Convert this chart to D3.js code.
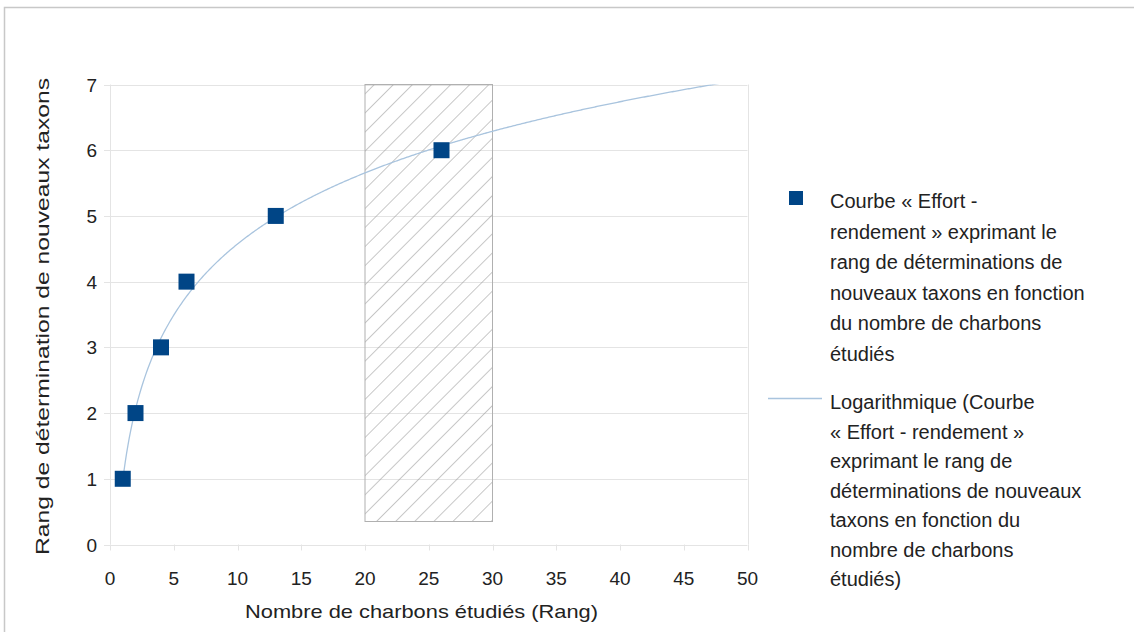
<!DOCTYPE html>
<html><head><meta charset="utf-8">
<script src="https://cdn.jsdelivr.net/npm/d3@7"></script>
<style>body{margin:0;background:#fff}svg{display:block;font-family:"Liberation Sans",Arial,sans-serif}</style>
</head><body><svg id="c" width="1134" height="632"></svg>
<script>
const xValues = [1, 2, 4, 6, 13, 26];
const yValues = [1, 2, 3, 4, 5, 6];
const xTicks = [0,5,10,15,20,25,30,35,40,45,50];
const yTicks = [0,1,2,3,4,5,6,7];
const zoneX = [20, 30];
const zoneY = [0.35, 7];
const xTitle = "Nombre de charbons étudiés (Rang)";
const yTitle = "Rang de détermination de nouveaux taxons";
const legend1 = ["Courbe « Effort -","rendement » exprimant le","rang de déterminations de","nouveaux taxons en fonction","du nombre de charbons","étudiés"];
const legend2 = ["Logarithmique (Courbe","« Effort - rendement »","exprimant le rang de","déterminations de nouveaux","taxons en fonction du","nombre de charbons","étudiés)"];

const svg = d3.select("#c");
const x = d3.scaleLinear().domain([0,50]).range([110,747.5]);
const y = d3.scaleLinear().domain([0,7]).range([544.5,84.5]);

// outer frame
svg.append("rect").attr("x",4.5).attr("y",7.5).attr("width",1140).attr("height",640)
  .attr("fill","none").attr("stroke","#c8c8c8").attr("stroke-width",1.5);

const defs = svg.append("defs");
const pat = defs.append("pattern").attr("id","hatch").attr("patternUnits","userSpaceOnUse")
  .attr("width",13.5).attr("height",13.5).attr("patternTransform","rotate(45)");
pat.append("line").attr("x1",0).attr("y1",0).attr("x2",0).attr("y2",13.5)
  .attr("stroke","#9a9a9a").attr("stroke-width",1.1);
defs.append("clipPath").attr("id","plot").append("rect")
  .attr("x",x(0)).attr("y",y(7)).attr("width",x(50)-x(0)).attr("height",y(0)-y(7));

// grid
svg.append("g").selectAll("line").data(yTicks).join("line")
  .attr("x1",x(0)-6).attr("x2",x(50)).attr("y1",d=>Math.round(y(d))+0.5).attr("y2",d=>Math.round(y(d))+0.5)
  .attr("stroke","#e4e4e4").attr("stroke-width",1);
svg.append("g").selectAll("line").data([0,50]).join("line")
  .attr("x1",d=>Math.round(x(d))+0.5).attr("x2",d=>Math.round(x(d))+0.5).attr("y1",y(7)).attr("y2",y(0))
  .attr("stroke","#e4e4e4");
svg.append("g").selectAll("line").data(xTicks).join("line")
  .attr("x1",d=>Math.round(x(d))+0.5).attr("x2",d=>Math.round(x(d))+0.5).attr("y1",y(0)).attr("y2",y(0)+6)
  .attr("stroke","#e4e4e4");

// hatched zone
svg.append("rect").attr("x",x(zoneX[0])).attr("y",y(zoneY[1]))
  .attr("width",x(zoneX[1])-x(zoneX[0])).attr("height",y(zoneY[0])-y(zoneY[1]))
  .attr("fill","url(#hatch)").attr("stroke","#b0b0b0").attr("stroke-width",1);

// tick labels
svg.append("g").selectAll("text").data(xTicks).join("text")
  .attr("x",d=>x(d)).attr("y",585).attr("text-anchor","middle")
  .attr("font-size",19).attr("fill","#222").text(d=>d);
svg.append("g").selectAll("text").data(yTicks).join("text")
  .attr("x",97).attr("y",d=>y(d)+7).attr("text-anchor","end")
  .attr("font-size",19).attr("fill","#222").text(d=>d);

// titles
svg.append("text").attr("x",245).attr("y",618)
  .attr("font-size",19).attr("fill","#222")
  .attr("textLength",353).attr("lengthAdjust","spacingAndGlyphs").text(xTitle);
svg.append("text").attr("transform","translate(49,555) rotate(-90)")
  .attr("font-size",19).attr("fill","#222")
  .attr("textLength",477).attr("lengthAdjust","spacingAndGlyphs").text(yTitle);

// log regression of the data
const lx = xValues.map(Math.log);
const mx = d3.mean(lx), my = d3.mean(yValues);
const a = d3.sum(lx.map((v,i)=>(v-mx)*(yValues[i]-my))) / d3.sum(lx.map(v=>(v-mx)*(v-mx)));
const b = my - a*mx;
const curve = d3.range(1, 50.01, 0.1).map(v=>[v, a*Math.log(v)+b]);
svg.append("path").attr("clip-path","url(#plot)")
  .attr("d", d3.line().x(d=>x(d[0])).y(d=>y(d[1]))(curve))
  .attr("fill","none").attr("stroke","#a9c4de").attr("stroke-width",1.3);

// points
const s = 16;
svg.append("g").selectAll("rect").data(xValues.map((v,i)=>[v,yValues[i]])).join("rect")
  .attr("x",d=>x(d[0])-s/2).attr("y",d=>y(d[1])-s/2).attr("width",s).attr("height",s)
  .attr("fill","#004586");

// legend
svg.append("rect").attr("x",789).attr("y",191).attr("width",14).attr("height",14).attr("fill","#004586");
svg.append("g").selectAll("text").data(legend1).join("text")
  .attr("x",830).attr("y",(d,i)=>208+i*30.5).attr("font-size",20).attr("fill","#222").text(d=>d);
svg.append("line").attr("x1",768).attr("x2",822).attr("y1",398.5).attr("y2",398.5)
  .attr("stroke","#a9c4de").attr("stroke-width",1.3);
svg.append("g").selectAll("text").data(legend2).join("text")
  .attr("x",830).attr("y",(d,i)=>409+i*29.5).attr("font-size",20).attr("fill","#222").text(d=>d);
</script></body></html>
